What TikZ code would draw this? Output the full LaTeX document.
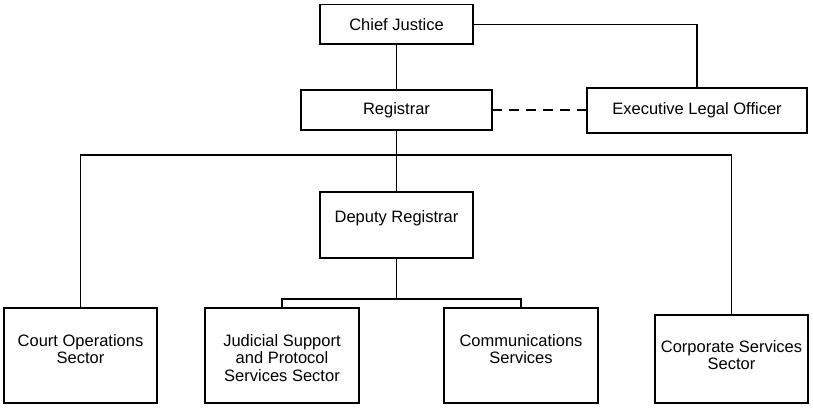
\documentclass[tikz,border=0pt]{standalone}
\usepackage{fontspec}
\setmainfont{Liberation Sans}

\begin{document}
\begin{tikzpicture}[
    x=1pt,
    y=-1pt,
    unit/.style={draw, line width=1.4pt, inner sep=0pt, outer sep=0pt,
      font=\fontsize{16.5}{17.5}\selectfont},
    caption/.style={anchor=north, align=center, inner sep=0pt,
      font=\fontsize{16.5}{17.5}\selectfont},
    link/.style={line width=1.4pt},
  ]
  \useasboundingbox (0,0) rectangle (813,408);
  \node[unit, minimum width=153, minimum height=39.5] (chief) at (396.5,24.25) {Chief Justice};
  \node[unit, minimum width=191, minimum height=40] (registrar) at (396.5,110) {Registrar};
  \node[unit, minimum width=220, minimum height=45] (legal) at (697,110.5) {Executive Legal Officer};
  \node[unit, minimum width=153, minimum height=66,
    label={[caption, yshift=-18pt]north:Deputy Registrar}] (deputy) at (396.5,225) {};
  \node[unit, minimum width=153, minimum height=95,
    label={[caption, yshift=-26pt]north:Court Operations\\Sector}] (court) at (80.5,355.5) {};
  \node[unit, minimum width=154, minimum height=95,
    label={[caption, yshift=-26pt]north:Judicial Support\\and Protocol\\Services Sector}] (judicial) at (282,355.5) {};
  \node[unit, minimum width=154, minimum height=95,
    label={[caption, yshift=-26pt]north:Communications\\Services}] (comms) at (521,355.5) {};
  \node[unit, minimum width=153, minimum height=88,
    label={[caption, yshift=-25pt]north:Corporate Services\\Sector}] (corporate) at (731.5,359) {};
  \coordinate (upper) at (396.5,155);
  \coordinate (lower) at (396.5,299);
  \draw[link] (chief) -- (registrar);
  \draw[link] (chief.east) -| (legal.north);
  \draw[link, dash pattern=on 10pt off 7pt] (registrar.east) -- (registrar.east -| legal.west);
  \draw[link] (registrar) -- (deputy);
  \foreach \n in {court,corporate} {
    \draw[link] (upper) -| (\n.north);
  }
  \draw[link] (deputy) -- (lower);
  \foreach \n in {judicial,comms} {
    \draw[link] (lower) -| (\n.north);
  }
\end{tikzpicture}
\end{document}
